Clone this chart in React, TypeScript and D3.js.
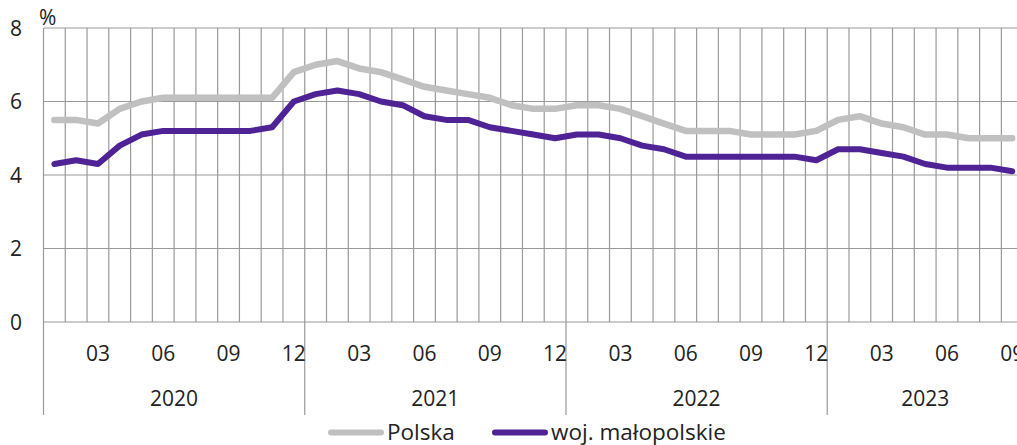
import { useEffect, useRef } from 'react';
import * as d3 from 'd3';

const years = [2020, 2021, 2022, 2023];
const lastMonth = 9; // data ends Sep 2023
const polska = [
  5.5, 5.5, 5.4, 5.8, 6.0, 6.1, 6.1, 6.1, 6.1, 6.1, 6.1, 6.8,
  7.0, 7.1, 6.9, 6.8, 6.6, 6.4, 6.3, 6.2, 6.1, 5.9, 5.8, 5.8,
  5.9, 5.9, 5.8, 5.6, 5.4, 5.2, 5.2, 5.2, 5.1, 5.1, 5.1, 5.2,
  5.5, 5.6, 5.4, 5.3, 5.1, 5.1, 5.0, 5.0, 5.0,
];
const malopolskie = [
  4.3, 4.4, 4.3, 4.8, 5.1, 5.2, 5.2, 5.2, 5.2, 5.2, 5.3, 6.0,
  6.2, 6.3, 6.2, 6.0, 5.9, 5.6, 5.5, 5.5, 5.3, 5.2, 5.1, 5.0,
  5.1, 5.1, 5.0, 4.8, 4.7, 4.5, 4.5, 4.5, 4.5, 4.5, 4.5, 4.4,
  4.7, 4.7, 4.6, 4.5, 4.3, 4.2, 4.2, 4.2, 4.1,
];
const yTicks = [0, 2, 4, 6, 8];
const monthLabels = ['03', '06', '09', '12'];
const seriesNames = ['Polska', 'woj. małopolskie'];
const seriesColors = ['#c0c0c0', '#4f2396'];

const months: string[] = [];
years.forEach((y, yi) => {
  const n = yi === years.length - 1 ? lastMonth : 12;
  for (let m = 1; m <= n; m++) months.push(`${y}-${String(m).padStart(2, '0')}`);
});

const App = () => {
  const svgRef = useRef<SVGSVGElement>(null);

  useEffect(() => {
    const w = 1017;
    const h = 445;
    const left = 43.5;
    const top = 28;
    const bottom = 322;
    const step = 21.77;
    const plotW = step * months.length;
    const font = '"Open Sans", "Noto Sans", sans-serif';
    const grid = '#9a9a9a';
    const ink = '#222';

    const svg = d3.select(svgRef.current).attr('width', w).attr('height', h);
    svg.selectAll('*').remove();

    const x = d3.scaleBand<string>().domain(months).range([left, left + plotW]).padding(0);
    const y = d3.scaleLinear().domain([0, 8]).range([bottom, top]);
    const cx = (m: string) => (x(m) as number) + x.bandwidth() / 2;

    // horizontal grid
    svg.append('g')
      .selectAll('line')
      .data(yTicks)
      .enter()
      .append('line')
      .attr('x1', left)
      .attr('x2', left + plotW)
      .attr('y1', (d) => y(d))
      .attr('y2', (d) => y(d))
      .attr('stroke', grid)
      .attr('stroke-width', 1.2);

    // vertical month grid, year separators run down to the bottom
    svg.append('g')
      .selectAll('line')
      .data(months)
      .enter()
      .append('line')
      .attr('x1', (d) => x(d) as number)
      .attr('x2', (d) => x(d) as number)
      .attr('y1', top)
      .attr('y2', (d) => (d.endsWith('-01') ? 415 : bottom))
      .attr('stroke', grid)
      .attr('stroke-width', 1.2);

    // y labels
    svg.append('g')
      .selectAll('text')
      .data(yTicks)
      .enter()
      .append('text')
      .attr('x', 22)
      .attr('y', (d) => y(d) + 7.5)
      .attr('text-anchor', 'end')
      .attr('font-family', font)
      .attr('font-size', 21)
      .attr('fill', ink)
      .text((d) => d);
    svg.append('text')
      .attr('x', 39)
      .attr('y', 25)
      .attr('font-family', font)
      .attr('font-size', 21)
      .attr('fill', ink)
      .text('%');

    // month labels
    svg.append('g')
      .selectAll('text')
      .data(months.filter((m) => monthLabels.includes(m.slice(5))))
      .enter()
      .append('text')
      .attr('x', (d) => cx(d))
      .attr('y', 361)
      .attr('text-anchor', 'middle')
      .attr('font-family', font)
      .attr('font-size', 21)
      .attr('fill', ink)
      .text((d) => d.slice(5));

    // year labels, centred over the months present
    svg.append('g')
      .selectAll('text')
      .data(years)
      .enter()
      .append('text')
      .attr('x', (d) => {
        const ms = months.filter((m) => m.startsWith(String(d)));
        return (x(ms[0]) as number) + (step * ms.length) / 2;
      })
      .attr('y', 406)
      .attr('text-anchor', 'middle')
      .attr('font-family', font)
      .attr('font-size', 21)
      .attr('fill', ink)
      .text((d) => d);

    // lines
    const line = d3.line<number>()
      .x((_, i) => cx(months[i]))
      .y((d) => y(d));
    [polska, malopolskie].forEach((s, i) => {
      svg.append('path')
        .attr('d', line(s))
        .attr('fill', 'none')
        .attr('stroke', seriesColors[i])
        .attr('stroke-width', i === 0 ? 6.5 : 6)
        .attr('stroke-linejoin', 'round')
        .attr('stroke-linecap', 'round');
    });

    // legend
    const legendX = [331, 495];
    seriesNames.forEach((name, i) => {
      svg.append('line')
        .attr('x1', legendX[i])
        .attr('x2', legendX[i] + 50)
        .attr('y1', 432.5)
        .attr('y2', 432.5)
        .attr('stroke', seriesColors[i])
        .attr('stroke-width', 6)
        .attr('stroke-linecap', 'round');
      svg.append('text')
        .attr('x', legendX[i] + 56)
        .attr('y', 440)
        .attr('font-family', font)
        .attr('font-size', 22.5)
        .attr('fill', ink)
        .text(name);
    });
  }, []);

  return (
    <div>
      <svg ref={svgRef} style={{ position: 'absolute', left: 0, top: 0, display: 'block' }}></svg>
    </div>
  );
};

export default App;
